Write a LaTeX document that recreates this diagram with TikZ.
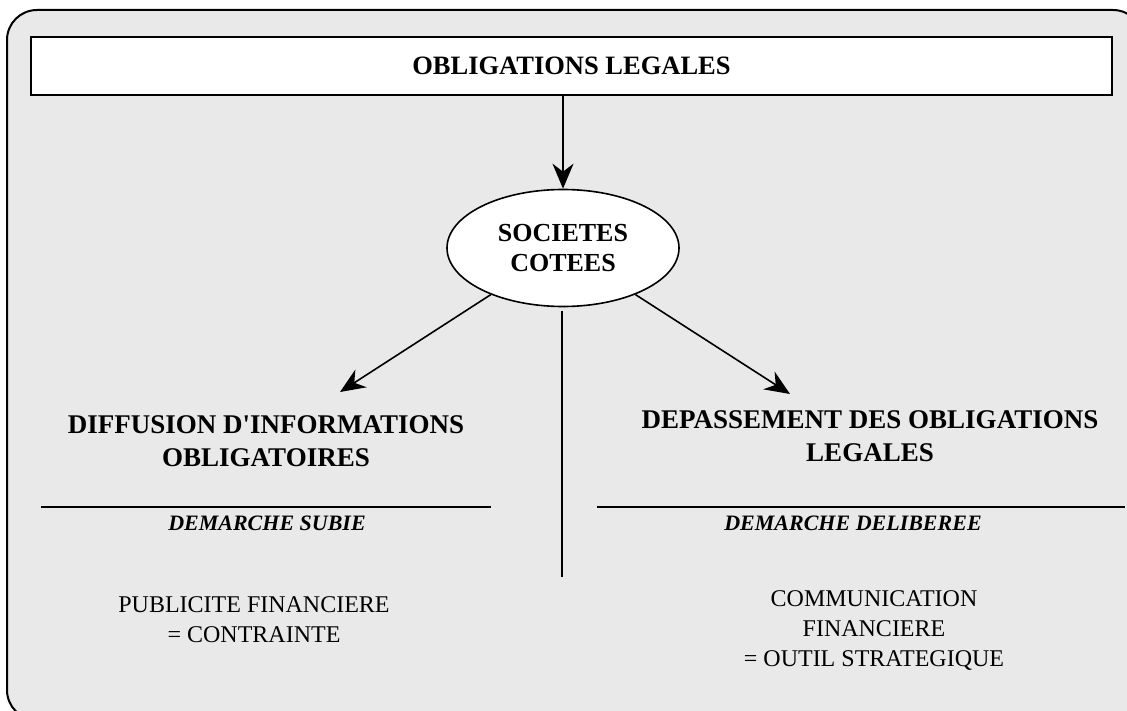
\documentclass[tikz,border=0pt]{standalone}
\usepackage{fontspec}
\setmainfont{Liberation Serif}
\usetikzlibrary{arrows.meta,shapes.geometric}
\definecolor{bggray}{RGB}{233,233,233}
\tikzset{
  frame/.style={line width=2pt, fill=bggray, rounded corners=30pt},
  titlebox/.style={draw, fill=white, line width=1.6pt, minimum width=1081pt, minimum height=58pt, inner sep=0pt, font=\fontsize{26.5}{30}\selectfont\bfseries},
  hub/.style={ellipse, draw, fill=white, line width=1.6pt, minimum width=232pt, minimum height=117pt, inner sep=0pt, align=center, font=\fontsize{26}{30}\selectfont\bfseries},
  arr/.style={line width=1.6pt, -{Stealth[length=25pt,width=21pt,inset=8pt]}},
  plain/.style={line width=1.6pt},
  rule/.style={line width=2.4pt},
  heading/.style={align=center, inner sep=0pt, font=\fontsize{27}{33}\selectfont\bfseries},
  subhead/.style={align=center, inner sep=0pt, font=\fontsize{22}{25}\selectfont\bfseries\itshape},
  body/.style={align=center, inner sep=0pt, font=\fontsize{24}{30}\selectfont}
}
\begin{document}
\begin{tikzpicture}[x=1pt,y=-1pt]
\useasboundingbox (0,0) rectangle (1127,711);
\begin{scope}
  \clip (0,0) rectangle (1127,711);
  \draw[frame] (7,10) rectangle (1143,720);
\end{scope}
\node[titlebox] (top) at (571.5,66) {OBLIGATIONS LEGALES};
\node[hub] (soc) at (563,248) {SOCIETES\\COTEES};
\coordinate (la) at (340,392);
\coordinate (ra) at (790,394);
\coordinate (v1) at (562,311);
\coordinate (v2) at (562,577);
\coordinate (l1) at (41,507);
\coordinate (l2) at (491,507);
\coordinate (r1) at (597,507);
\coordinate (r2) at (1125,507);
\draw[arr] (soc.north |- top.south) -- (soc.north);
\draw[arr] (soc) -- (la);
\draw[arr] (soc) -- (ra);
\draw[plain] (v1) -- (v2);
\draw[rule] (l1) -- (l2);
\draw[rule] (r1) -- (r2);
\node[heading] (lh) at (266,441) {DIFFUSION D\textquotesingle INFORMATIONS\\OBLIGATOIRES};
\node[heading] (rh) at (870,436) {DEPASSEMENT DES OBLIGATIONS\\LEGALES};
\node[subhead] (ls) at (267,523) {DEMARCHE SUBIE};
\node[subhead] (rs) at (853,523) {DEMARCHE DELIBEREE};
\node[body] (lb) at (254,620) {PUBLICITE FINANCIERE\\= CONTRAINTE};
\node[body] (rb) at (874,630) {COMMUNICATION\\FINANCIERE\\= OUTIL STRATEGIQUE};
\end{tikzpicture}
\end{document}
